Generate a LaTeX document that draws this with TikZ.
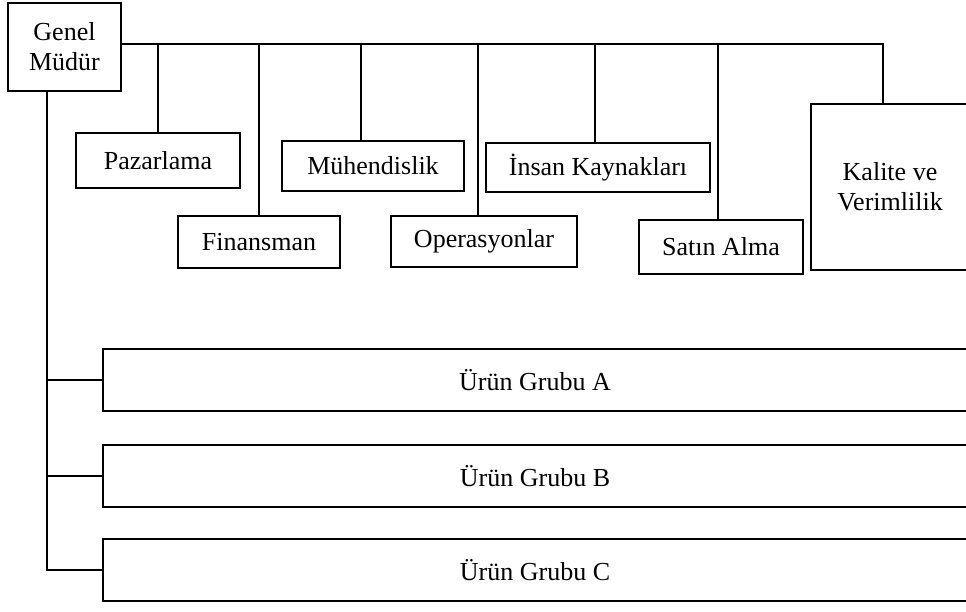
\documentclass[tikz,border=0pt]{standalone}
\usepackage{fontspec}
\setmainfont{Liberation Serif}
\usepackage{tikz}

\begin{document}
\begin{tikzpicture}[
					x=1pt,y=-1pt,
					line width=1.8pt,
					font=\fontsize{26}{30}\selectfont,
					unit/.style={rectangle,draw,inner sep=0pt,align=center},
					group/.style={unit,minimum width=864pt,minimum height=62pt},
					]
					\useasboundingbox (0,0) rectangle (966,612);
					\clip (0,0) rectangle (966,612);
					\node [unit,minimum width=113pt,minimum height=88pt] (gm) at (64.5,47) {Genel\\Müdür};
					\node [unit,minimum width=164pt,minimum height=55pt] (paz) at (158,160.5) {Pazarlama};
					\node [unit,minimum width=162pt,minimum height=52pt] (fin) at (259,242) {Finansman};
					\node [unit,minimum width=182pt,minimum height=50pt] (muh) at (373,166) {Mühendislik};
					\node [unit,minimum width=186pt,minimum height=51pt] (ope) at (484,241.5) {Operasyonlar};
					\node [unit,minimum width=224pt,minimum height=49pt] (ins) at (598,167.5) {İnsan Kaynakları};
					\node [unit,minimum width=164pt,minimum height=54pt] (sat) at (721,247) {Satın Alma};
					\node [unit,minimum width=158pt,minimum height=166pt] (kal) at (890,187) {Kalite ve\\Verimlilik};
					\node [group] (ga) at (535,380) {Ürün Grubu A};
					\node [group] (gb) at (535,476) {Ürün Grubu B};
					\node [group] (gc) at (535,570) {Ürün Grubu C};
					\coordinate (bus) at ([yshift=3pt]gm.east);
					\draw (bus) -| ([xshift=-7pt]kal.north);
					\foreach \n/\s in {paz/0,fin/0,muh/-12,ope/-6,ins/-3,sat/-3}
						\draw ([xshift=\s pt]\n.north) -- ([xshift=\s pt]\n.north |- bus);
					\coordinate (trunk) at ([xshift=-17.5pt]gm.south);
					\draw (trunk) |- (gc.west);
					\draw (ga.west) -- (ga.west -| trunk);
					\draw (gb.west) -- (gb.west -| trunk);
				\end{tikzpicture}
\end{document}
